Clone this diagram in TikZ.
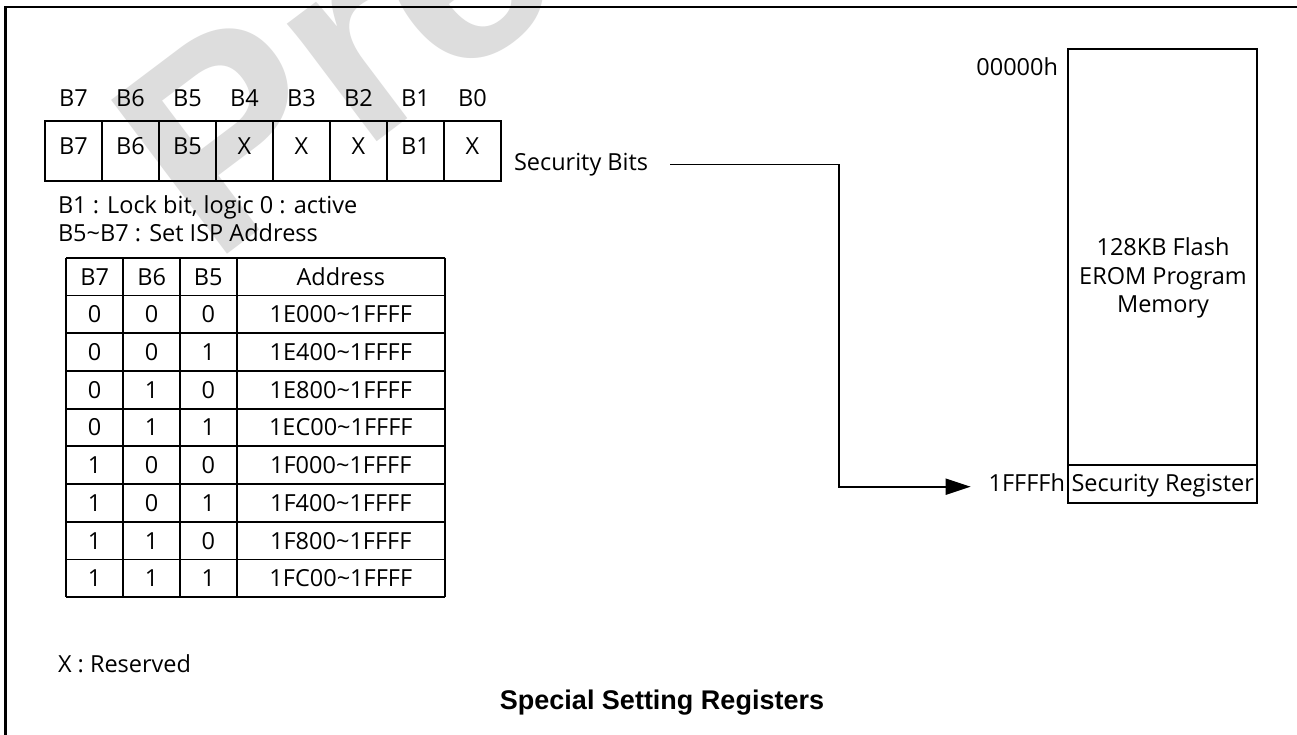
\documentclass[tikz,border=0pt]{standalone}
\usepackage{fontspec}
\setmainfont{Open Sans}
\newfontfamily\libsans{Liberation Sans}
\usetikzlibrary{arrows.meta}
\definecolor{wmgray}{RGB}{221,221,221}
\begin{document}
\begin{tikzpicture}[x=1pt,y=-1pt,
  txt/.style={inner sep=0pt, outer sep=0pt, font=\fontsize{23.5}{28}\selectfont},
  lbl/.style={txt, anchor=base},
  lblw/.style={txt, anchor=base west},
  lble/.style={txt, anchor=base east},
  regcell/.style={draw, line width=1.8pt, minimum width=57pt, minimum height=60pt, inner sep=0pt},
  membox/.style={draw, line width=1.8pt, inner sep=0pt, minimum width=189.3pt},
  grid/.style={line width=1.8pt},
  conn/.style={line width=1.8pt},
  frame/.style={line width=2.4pt},
  wmark/.style={inner sep=0pt, outer sep=0pt, anchor=base west, text=wmgray,
    font=\libsans\bfseries\fontsize{280}{280}\selectfont}
]
\useasboundingbox (0,0) rectangle (1297,735);
\fill[white] (0,0) rectangle (1297,735);
% watermark
\begin{scope}
  \clip (0,0) rectangle (1297,735);
  \node[wmark, rotate=37] (wm) at (212,266) {Preliminary};
\end{scope}
% frame
\draw[frame] (1297,7) -- (5.3,7) -- (5.3,735);
% register
\foreach \i/\lab/\val in {0/B7/B7,1/B6/B6,2/B5/B5,3/B4/X,4/B3/X,5/B2/X,6/B1/B1,7/B0/X}{
  \node[regcell] (c\i) at ({73.5+57*\i},151) {};
  \node[lbl] (v\i) at ({73.5+57*\i},155) {\val};
  \node[lbl] (h\i) at ({73.5+57*\i},107) {\lab};
}
\node[lblw] (secbits) at (514,171) {Security Bits};
% notes
\node[lblw] (note1) at (58,213.3) {B1 : Lock bit, logic 0 : active};
\node[lblw] (note2) at (58,241) {B5\textasciitilde B7 : Set ISP Address};
% table grid
\foreach \k in {0,...,9}{
  \draw[grid] (66,{257.7+37.73*\k}) -- (445,{257.7+37.73*\k});
}
\foreach \xx in {66,123.3,180,236.7,445}{
  \draw[grid] (\xx,257.7) -- (\xx,597.3);
}
\node[lbl] (th7) at (94.7,285) {B7};
\node[lbl] (th6) at (151.7,285) {B6};
\node[lbl] (th5) at (208.3,285) {B5};
\node[lbl] (tha) at (340.8,285) {Address};
\foreach \a/\b/\c/\addr [count=\r] in {0/0/0/1E000,0/0/1/1E400,0/1/0/1E800,0/1/1/1EC00,1/0/0/1F000,1/0/1/1F400,1/1/0/1F800,1/1/1/1FC00}{
  \node[lbl] (ta\r) at (94.7,{285+37.73*\r}) {\a};
  \node[lbl] (tb\r) at (151.7,{285+37.73*\r}) {\b};
  \node[lbl] (tc\r) at (208.3,{285+37.73*\r}) {\c};
  \node[lbl] (td\r) at (340.8,{285+37.73*\r}) {\addr\textasciitilde 1FFFF};
}
\node[lblw] (resv) at (58,672) {X : Reserved};
% memory map
\node[membox, minimum height=416pt] (mem) at (1162.7,257.3) {};
\node[membox, minimum height=37.4pt] (secreg) at (1162.7,484) {};
\node[lbl] (fl1) at (1163,255) {128KB Flash};
\node[lbl] (fl2) at (1163,284) {EROM Program};
\node[lbl] (fl3) at (1163,312) {Memory};
\node[lbl] (srtxt) at (1162.7,491.7) {Security Register};
\node[lble] (a0) at (1058,76) {00000h};
\node[lble] (a1) at (1065,491.7) {1FFFFh};
\coordinate (sbstart) at (670,164.5);
\coordinate (tip) at (970.7,486.7);
\draw[conn, -{Triangle[length=25pt,width=16pt]}] (sbstart) -- (839,164.5) |- (tip);
% title
\node[anchor=base, inner sep=0pt, font=\libsans\bfseries\fontsize{27}{32}\selectfont] (title) at (662,709) {Special Setting Registers};
\end{tikzpicture}
\end{document}
